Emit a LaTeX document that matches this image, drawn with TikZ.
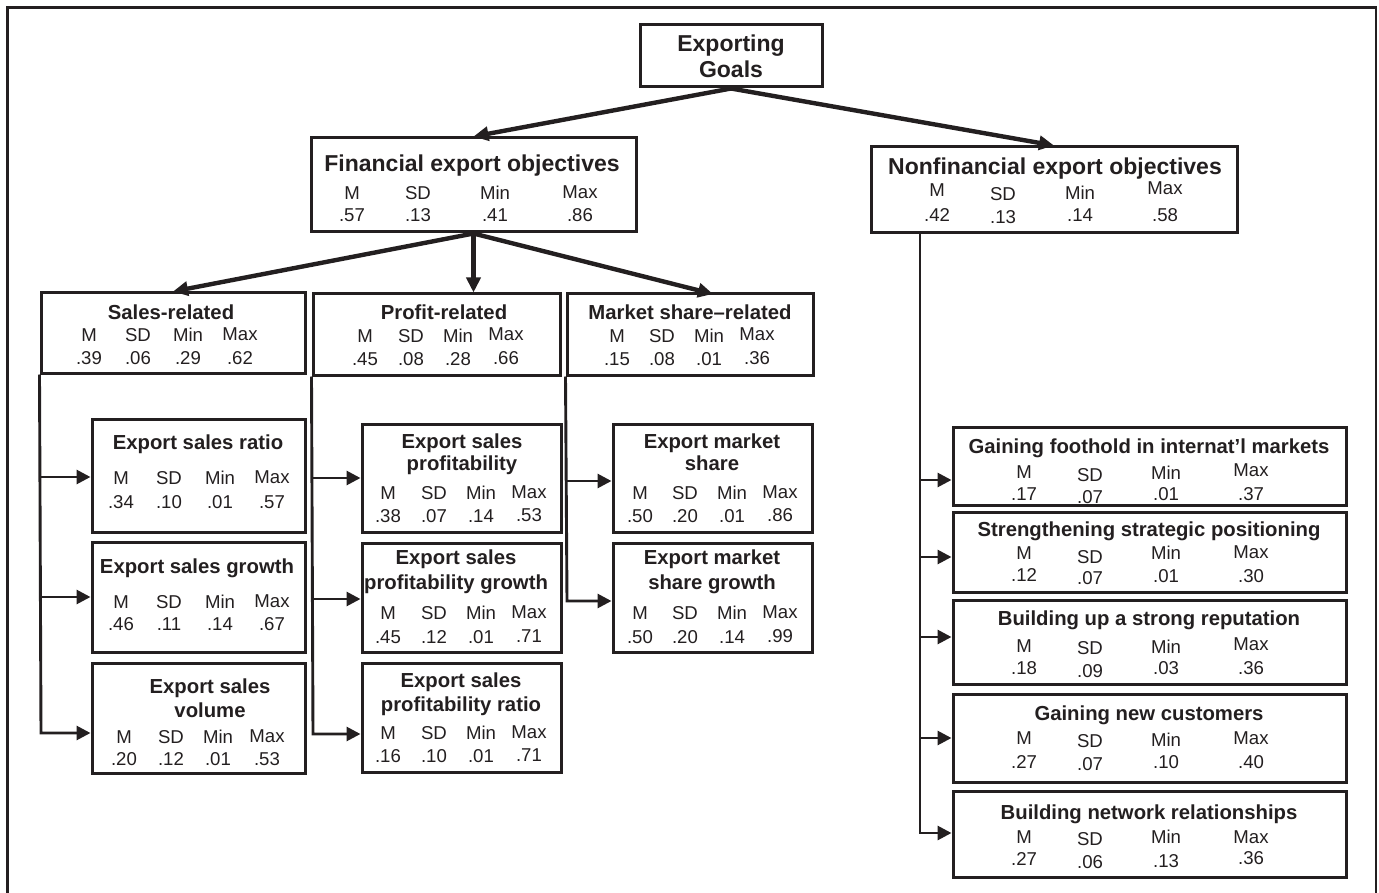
\documentclass[tikz,border=0pt]{standalone}
\usepackage{fontspec}
\setmainfont{Liberation Sans}
\usetikzlibrary{arrows.meta}
\definecolor{ink}{HTML}{231F20}
\newcommand\mkbox[5]{\node[box, minimum width={#4-#2}, minimum height={#5-#3}] (#1) at ({(#2+#4)/2},{(#3+#5)/2}) {};}
\newcommand\mktxt[5]{\node[#2] (#1) at (#3,#4) {#5};}
\newcommand\mkrow[2]{\foreach \xx/\yy/\tx [count=\i] in {#2} {\node[nm] (#1-\i) at (\xx,\yy) {\tx};}}
\begin{document}
\begin{tikzpicture}[x=1pt,y=-1pt, line join=miter,
  box/.style={draw=ink, line width=3pt, inner sep=0pt},
  tt/.style={font=\bfseries\fontsize{20.3}{24}\selectfont, text=ink, inner sep=0pt, text height=14.5pt, text depth=0pt},
  tb/.style={font=\bfseries\fontsize{23}{27}\selectfont, text=ink, inner sep=0pt, text height=16.5pt, text depth=0pt},
  nm/.style={font=\fontsize{18.6}{22}\selectfont, text=ink, inner sep=0pt, text height=13.3pt, text depth=0pt},
  big/.style={draw=ink, line width=4.4pt, -{Triangle[length=15pt,width=14pt]}},
  br/.style={draw=ink, line width=2.9pt, -{Triangle[length=14pt,width=14pt]}},
]
\useasboundingbox (0,0) rectangle (1379,893);
\draw[ink, line width=2.2pt] (7.5,893) -- (7.5,7.5) -- (1376,7.5) -- (1376,893);

% top
\mkbox{goals}{640}{25}{822}{87}
\mktxt{goals-t1}{tb}{731}{43}{Exporting}
\mktxt{goals-t2}{tb}{731}{69}{Goals}

% financial
\mkbox{fin}{311}{138}{636}{232}
\mktxt{fin-t}{tb}{472}{163}{Financial export objectives}
\mkrow{fin-h}{352/193/M, 418/193/SD, 495/193/Min, 580/192/Max}
\mkrow{fin-v}{352/215/.57, 418/215/.13, 495/215/.41, 580/215/.86}

% nonfinancial
\mkbox{nf}{871}{147}{1237}{233}
\mktxt{nf-t}{tb}{1055}{166}{Nonfinancial export objectives}
\mkrow{nf-h}{937/190/M, 1003/194/SD, 1080/193/Min, 1165/188/Max}
\mkrow{nf-v}{937/215/.42, 1003/217/.13, 1080/215/.14, 1165/215/.58}

% second level
\mkbox{sr}{41}{293}{305}{373}
\mktxt{sr-t}{tt}{171}{312}{Sales-related}
\mkrow{sr-h}{89/335/M, 138/335/SD, 188/335/Min, 240/334/Max}
\mkrow{sr-v}{89/358/.39, 138/358/.06, 188/358/.29, 240/358/.62}

\mkbox{pr}{313}{294}{560}{375}
\mktxt{pr-t}{tt}{444}{312}{Profit-related}
\mkrow{pr-h}{365/336/M, 411/336/SD, 458/336/Min, 506/334/Max}
\mkrow{pr-v}{365/359/.45, 411/359/.08, 458/359/.28, 506/358/.66}

\mkbox{ms}{567}{294}{813}{375}
\mktxt{ms-t}{tt}{690}{312}{Market share\textendash related}
\mkrow{ms-h}{617/336/M, 662/336/SD, 709/336/Min, 757/334/Max}
\mkrow{ms-v}{617/359/.15, 662/359/.08, 709/359/.01, 757/358/.36}

% sales children
\mkbox{esr}{92}{419}{305}{532}
\mktxt{esr-t}{tt}{198}{442}{Export sales ratio}
\mkrow{esr-h}{121/478/M, 169/478/SD, 220/478/Min, 272/477/Max}
\mkrow{esr-v}{121/502/.34, 169/502/.10, 220/502/.01, 272/502/.57}

\mkbox{esg}{92}{542}{305}{652}
\mktxt{esg-t}{tt}{197}{566}{Export sales growth}
\mkrow{esg-h}{121/602/M, 169/602/SD, 220/602/Min, 272/601/Max}
\mkrow{esg-v}{121/624/.46, 169/624/.11, 220/624/.14, 272/624/.67}

\mkbox{esv}{92}{663}{305}{773}
\mktxt{esv-t1}{tt}{210}{686}{Export sales}
\mktxt{esv-t2}{tt}{210}{710}{volume}
\mkrow{esv-h}{124/737/M, 171/737/SD, 218/737/Min, 267/736/Max}
\mkrow{esv-v}{124/759/.20, 171/759/.12, 218/759/.01, 267/759/.53}

% profit children
\mkbox{esp}{362}{424}{561}{532}
\mktxt{esp-t1}{tt}{462}{441}{Export sales}
\mktxt{esp-t2}{tt}{462}{463}{profitability}
\mkrow{esp-h}{388/493/M, 434/493/SD, 481/493/Min, 529/492/Max}
\mkrow{esp-v}{388/516/.38, 434/516/.07, 481/516/.14, 529/515/.53}

\mkbox{espg}{362}{543}{561}{652}
\mktxt{espg-t1}{tt}{456}{557}{Export sales}
\mktxt{espg-t2}{tt}{456}{582}{profitability growth}
\mkrow{espg-h}{388/613/M, 434/613/SD, 481/613/Min, 529/612/Max}
\mkrow{espg-v}{388/637/.45, 434/637/.12, 481/637/.01, 529/636/.71}

\mkbox{espr}{362}{663}{561}{772}
\mktxt{espr-t1}{tt}{461}{680}{Export sales}
\mktxt{espr-t2}{tt}{461}{704}{profitability ratio}
\mkrow{espr-h}{388/733/M, 434/733/SD, 481/733/Min, 529/732/Max}
\mkrow{espr-v}{388/756/.16, 434/756/.10, 481/756/.01, 529/755/.71}

% market children
\mkbox{ems}{613}{424}{812}{532}
\mktxt{ems-t1}{tt}{712}{441}{Export market}
\mktxt{ems-t2}{tt}{712}{463}{share}
\mkrow{ems-h}{640/493/M, 685/493/SD, 732/493/Min, 780/492/Max}
\mkrow{ems-v}{640/516/.50, 685/516/.20, 732/516/.01, 780/515/.86}

\mkbox{emsg}{613}{543}{812}{652}
\mktxt{emsg-t1}{tt}{712}{557}{Export market}
\mktxt{emsg-t2}{tt}{712}{582}{share growth}
\mkrow{emsg-h}{640/613/M, 685/613/SD, 732/613/Min, 780/612/Max}
\mkrow{emsg-v}{640/637/.50, 685/637/.20, 732/637/.14, 780/636/.99}

% nonfinancial children
\mkbox{n1}{953}{427}{1346}{505}
\mktxt{n1-t}{tt}{1149}{446}{Gaining foothold in internat’l markets}
\mkrow{n1-h}{1024/472/M, 1090/475/SD, 1166/473/Min, 1251/470/Max}
\mkrow{n1-v}{1024/494/.17, 1090/497/.07, 1166/494/.01, 1251/494/.37}

\mkbox{n2}{953}{512}{1346}{592}
\mktxt{n2-t}{tt}{1149}{529}{Strengthening strategic positioning}
\mkrow{n2-h}{1024/553/M, 1090/557/SD, 1166/553/Min, 1251/552/Max}
\mkrow{n2-v}{1024/575/.12, 1090/578/.07, 1166/576/.01, 1251/576/.30}

\mkbox{n3}{953}{600}{1346}{684}
\mktxt{n3-t}{tt}{1149}{618}{Building up a strong reputation}
\mkrow{n3-h}{1024/646/M, 1090/648/SD, 1166/647/Min, 1251/644/Max}
\mkrow{n3-v}{1024/668/.18, 1090/671/.09, 1166/668/.03, 1251/668/.36}

\mkbox{n4}{953}{694}{1346}{782}
\mktxt{n4-t}{tt}{1149}{713}{Gaining new customers}
\mkrow{n4-h}{1024/738/M, 1090/741/SD, 1166/740/Min, 1251/738/Max}
\mkrow{n4-v}{1024/762/.27, 1090/764/.07, 1166/762/.10, 1251/762/.40}

\mkbox{n5}{953}{791}{1346}{877}
\mktxt{n5-t}{tt}{1149}{812}{Building network relationships}
\mkrow{n5-h}{1024/837/M, 1090/839/SD, 1166/837/Min, 1251/837/Max}
\mkrow{n5-v}{1024/859/.27, 1090/862/.06, 1166/861/.13, 1251/858/.36}

% main arrows
\draw[big] (goals.south) -- (fin.north);
\draw[big] (goals.south) -- (nf.north);
\coordinate (mstip) at (713,294);
\draw[big] (fin.south) -- (sr.north);
\draw[big] (fin.south) -- (fin.south |- pr.north);
\draw[big] (fin.south) -- (mstip);

% sales branches
\coordinate (sra1) at (41,477);
\coordinate (sra2) at (41,597);
\coordinate (sra3) at (41,733);
\draw[br] (sr.south west) -- (sra3) -- (esv.west |- sra3);
\draw[br] (sra1) -- (esr.west |- sra1);
\draw[br] (sra2) -- (esg.west |- sra2);

% profit branches
\coordinate (pra1) at (313,478);
\coordinate (pra2) at (313,599);
\coordinate (pra3) at (313,734);
\draw[br] (pr.south west) -- (pra3) -- (espr.west |- pra3);
\draw[br] (pra1) -- (esp.west |- pra1);
\draw[br] (pra2) -- (espg.west |- pra2);

% market branches
\coordinate (msa1) at (567,481);
\coordinate (msa2) at (567,601);
\draw[br] (ms.south west) -- (msa2) -- (emsg.west |- msa2);
\draw[br] (msa1) -- (ems.west |- msa1);

% nonfinancial branches
\coordinate (nfa1) at (920,480);
\coordinate (nfa2) at (920,557);
\coordinate (nfa3) at (920,637);
\coordinate (nfa4) at (920,738);
\coordinate (nfa5) at (920,833);
\draw[br] (nf.south -| nfa5) -- (nfa5) -- (n5.west |- nfa5);
\draw[br] (nfa1) -- (n1.west |- nfa1);
\draw[br] (nfa2) -- (n2.west |- nfa2);
\draw[br] (nfa3) -- (n3.west |- nfa3);
\draw[br] (nfa4) -- (n4.west |- nfa4);
\end{tikzpicture}
\end{document}
